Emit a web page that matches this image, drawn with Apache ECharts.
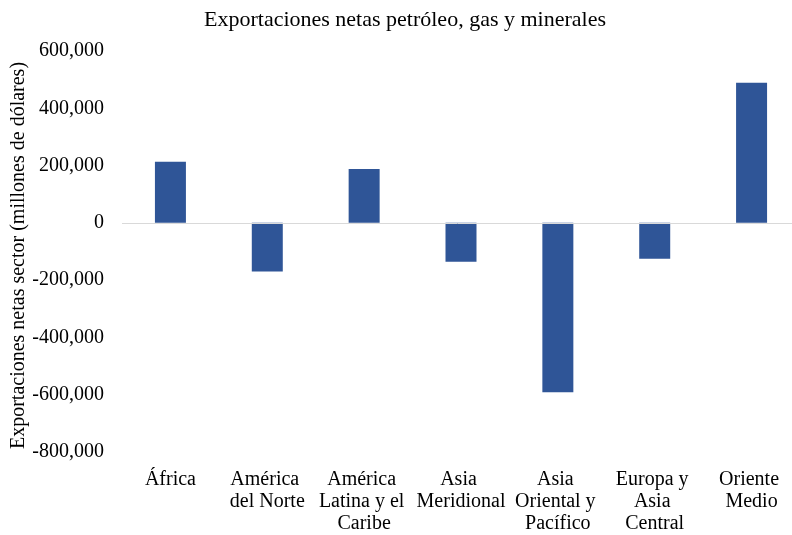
<!DOCTYPE html>
<html>
<head>
<meta charset="utf-8">
<script src="https://cdn.jsdelivr.net/npm/echarts@6/dist/echarts.min.js"></script>
<style>
  html, body { margin: 0; padding: 0; background: #fff; }
  #chart { width: 792px; height: 535px; }
</style>
</head>
<body>
<div id="chart"></div>
<script>
  // datos (millones de dólares)
  const regiones = ['África', 'América del Norte', 'América Latina y el Caribe', 'Asia Meridional',
    'Asia Oriental y Pacífico', 'Europa y Asia Central', 'Oriente Medio'];
  const exportacionesNetas = [213000, -170000, 188000, -136000, -591000, -125000, 489000];
  const ejeY = { min: -800000, max: 600000, interval: 200000 };

  const fuente = 'Liberation Serif, Times New Roman, serif';
  const chart = echarts.init(document.getElementById('chart'));

  chart.setOption({
    animation: false,
    title: {
      text: 'Exportaciones netas petróleo, gas y minerales',
      left: 199,
      top: 4,
      textStyle: { fontFamily: fuente, fontSize: 22, fontWeight: 'normal', color: '#000' }
    },
    grid: { left: 122, right: -8, top: 51, bottom: 83, outerBoundsMode: 'none' },
    xAxis: {
      type: 'category',
      data: regiones,
      axisLine: { show: false, onZero: false },
      axisTick: { show: false },
      axisLabel: {
        interval: 0,
        margin: 17,
        width: 94,
        overflow: 'break',
        lineHeight: 22,
        fontFamily: fuente,
        fontSize: 20,
        color: '#000'
      }
    },
    yAxis: {
      type: 'value',
      min: ejeY.min,
      max: ejeY.max,
      interval: ejeY.interval,
      name: 'Exportaciones netas sector (millones de dólares)',
      nameLocation: 'middle',
      nameGap: 93,
      nameMoveOverlap: false,
      nameTextStyle: { fontFamily: fuente, fontSize: 20, color: '#000', padding: [0, 0, 0, -8] },
      splitLine: { show: false },
      axisLine: { show: false },
      axisTick: { show: false },
      axisLabel: {
        margin: 18,
        fontFamily: fuente,
        fontSize: 20,
        color: '#000',
        formatter: v => v.toLocaleString('en-US')
      }
    },
    series: [{
      type: 'bar',
      data: exportacionesNetas,
      barWidth: '32%',
      itemStyle: { color: '#2f5597' },
      markLine: {
        silent: true,
        symbol: 'none',
        label: { show: false },
        lineStyle: { color: '#d9d9d9', width: 1, type: 'solid' },
        data: [{ yAxis: 0 }]
      }
    }]
  });
</script>
</body>
</html>
